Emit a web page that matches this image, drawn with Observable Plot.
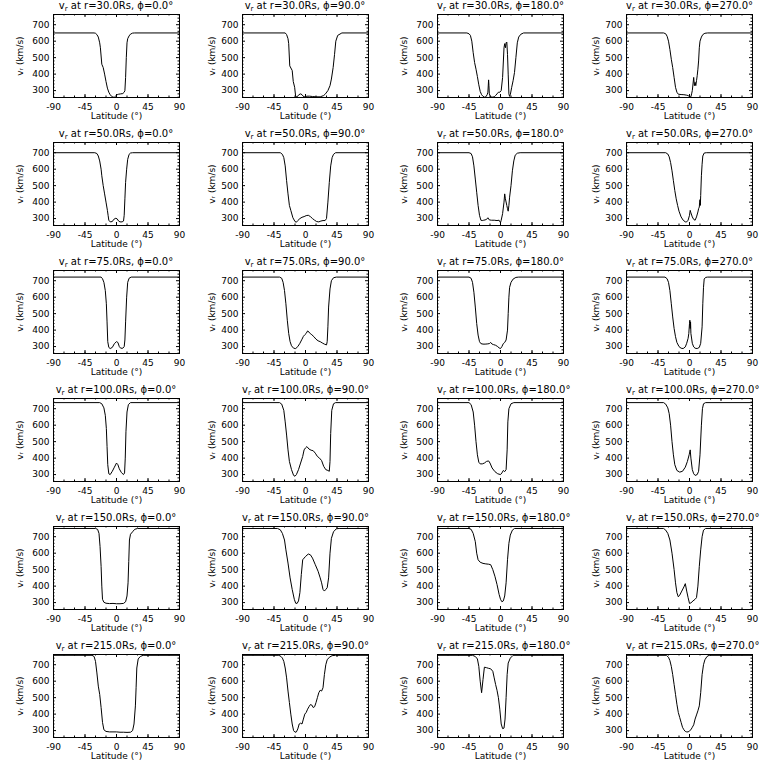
<!DOCTYPE html>
<html><head><meta charset="utf-8">
<script src="https://cdn.jsdelivr.net/npm/d3@7"></script>
<script src="https://cdn.jsdelivr.net/npm/@observablehq/plot@0.6"></script>
<style>
body{margin:0;background:#fff;}
#grid{position:relative;width:768px;height:768px;font-family:"DejaVu Sans",sans-serif;color:#000;}
.cell{position:absolute;width:192px;height:128px;}
.title{position:absolute;top:0;width:126px;text-align:center;font-size:10px;line-height:12px;white-space:nowrap;color:#000;}
.title sub{font-size:7px;vertical-align:-2px;line-height:0;}
.cell svg{position:absolute;top:12px;left:0;}
</style></head><body><div id="grid"></div>
<script>
const radii = [30, 50, 75, 100, 150, 215];
const phis = [0, 90, 180, 270];
const xTicks = [-90, -45, 0, 45, 90];
const yTicks = [300, 400, 500, 600, 700];
const yDomain = [258, 762];

// r = 30 Rs
const r30_phi0 = [[-90,650],[-32,650],[-30,648],[-28,640],[-26,625],[-24,590],[-23,560],[-22,510],[-21,460],[-19,440],[-17,400],[-15,355],[-13,315],[-11,290],[-9,275],[-7,265],[-5,260],[-3,260],[-1,268],[1,275],[3,278],[6,280],[9,282],[11,290],[12,300],[13,380],[14,500],[15,590],[16,615],[18,632],[20,643],[23,649],[26,650],[90,650]];
const r30_phi90 = [[-90,650],[-29,650],[-27,640],[-25,615],[-24,585],[-22.5,450],[-19,422],[-17.5,355],[-15.5,320],[-14,262],[-12,262],[-9.5,275],[-7,280],[-5,275],[-2.5,262],[0,262],[2,266],[6,266],[10,264],[15,262],[21,262],[26,270],[28.5,280],[32,300],[35,330],[37,370],[39.5,440],[41.5,520],[43.3,600],[46,635],[52,650],[90,650]];
const r30_phi180 = [[-90,650],[-48,650],[-45,645],[-43,635],[-41,600],[-39,530],[-37,470],[-35,430],[-33,385],[-31,335],[-29,295],[-27,275],[-25,265],[-23,260],[-21,262],[-19,275],[-18,290],[-17,365],[-16.5,330],[-16,280],[-14,262],[-12,260],[-9,262],[-7,270],[-5,280],[-3,290],[-1,290],[1,300],[3,380],[5,560],[6,585],[7,560],[8,590],[9,595],[10,520],[11,400],[12,280],[13,265],[14,275],[16,320],[18,360],[20,410],[22,500],[24,590],[26,625],[29,642],[33,650],[90,650]];
const r30_phi270 = [[-90,650],[-37,650],[-34,645],[-32,630],[-30,600],[-28,550],[-26,490],[-24,440],[-22,380],[-20,320],[-18,290],[-16,278],[-12,276],[-8,275],[-4,272],[-2,270],[0,262],[2,262],[3,280],[4,300],[5,340],[6,380],[7,330],[8,350],[9,330],[10,360],[11,390],[12,430],[13,480],[14,560],[15,600],[17,625],[19,640],[22,648],[26,650],[90,650]];

// r = 50 Rs
const r50_phi0 = [[-90,700],[-31,700],[-28,695],[-26,680],[-24,650],[-22,600],[-21,560],[-19,500],[-17,450],[-15,400],[-13,350],[-12,320],[-11,290],[-9,280],[-6,282],[-4,295],[-1,302],[1,298],[3,285],[5,280],[8,280],[10,285],[11,320],[12,420],[13,520],[14.5,600],[16,660],[18,690],[20,698],[23,700],[90,700]];
const r50_phi90 = [[-90,700],[-36,700],[-33,690],[-31,670],[-29,620],[-27,530],[-25,450],[-23,380],[-21,350],[-18,305],[-15,282],[-13,278],[-11,288],[-8,300],[-5,308],[-2,312],[1,318],[4,320],[7,312],[10,300],[13,290],[16,282],[19,280],[22,285],[25,288],[28,288],[30,300],[32,400],[34,520],[36,620],[38,670],[40,690],[43,700],[90,700]];
const r50_phi180 = [[-90,700],[-45,700],[-42,695],[-40,675],[-38,620],[-36,540],[-34,460],[-32,380],[-30,320],[-28,290],[-26,288],[-24,290],[-22,292],[-20,295],[-18,305],[-16,292],[-13,290],[-9,290],[-5,288],[-2,290],[0,275],[1,290],[3,330],[5,400],[6,450],[7,420],[9,380],[10,360],[11,345],[12,380],[13,430],[15,500],[17,590],[19,650],[21,685],[24,697],[28,700],[90,700]];
const r50_phi270 = [[-90,700],[-34,700],[-31,692],[-29,675],[-27,640],[-25,590],[-23,530],[-21,470],[-19,420],[-17,380],[-15,345],[-12,310],[-9,290],[-6,280],[-4,280],[-2,290],[0,320],[1,350],[2,335],[4,310],[6,295],[8,290],[10,310],[12,340],[13,360],[14,370],[14.5,400],[15,415],[15.5,380],[16,440],[17,560],[18,630],[19,680],[21,698],[24,700],[90,700]];

// r = 75 Rs
const r75_phi0 = [[-90,722],[-22,722],[-20,712],[-18,690],[-16,640],[-14.5,560],[-13.5,450],[-12.5,330],[-11,295],[-9,288],[-6,295],[-3,318],[0,330],[2,325],[4,300],[6,290],[9,290],[11,300],[12,340],[13,450],[14.5,600],[16,690],[18,715],[21,722],[90,722]];
const r75_phi90 = [[-90,722],[-37,722],[-34,715],[-32,690],[-30,640],[-28,560],[-26,460],[-24,380],[-22,330],[-20,305],[-17,290],[-14,288],[-11,300],[-8,320],[-5,345],[-3,362],[-1,372],[1,380],[3,395],[5,388],[7,378],[9,372],[12,360],[15,345],[18,335],[21,330],[24,322],[27,315],[30,310],[31,330],[32,420],[33,540],[35,650],[37,700],[40,718],[44,722],[90,722]];
const r75_phi180 = [[-90,722],[-45,722],[-42,715],[-40,690],[-38,630],[-36,540],[-34,440],[-32,370],[-30,330],[-28,318],[-25,315],[-22,315],[-19,316],[-16,318],[-14,325],[-12,315],[-10,312],[-7,308],[-4,300],[-2,292],[0,288],[2,300],[4,318],[6,325],[8,340],[10,400],[11,500],[12,600],[13,660],[15,690],[18,710],[22,720],[26,722],[90,722]];
const r75_phi270 = [[-90,722],[-35,722],[-32,712],[-30,690],[-28,640],[-26,560],[-24,480],[-22,410],[-20,360],[-18,325],[-15,300],[-12,290],[-9,288],[-6,298],[-4,320],[-2,350],[-1,380],[0,440],[0.5,460],[1,410],[1.5,450],[2,380],[4,320],[6,298],[8,290],[11,288],[14,295],[16,320],[18,420],[19,560],[20,660],[21,710],[23,720],[26,722],[90,722]];

// r = 100 Rs
const r100_phi0 = [[-90,737],[-24,737],[-21,730],[-18,705],[-16,660],[-14.5,580],[-13.5,470],[-12.5,360],[-11,305],[-9,300],[-6,320],[-3,345],[0,370],[2,360],[4,335],[7,312],[10,300],[11.5,310],[12.5,400],[13.5,560],[15,680],[17,725],[20,737],[90,737]];
const r100_phi90 = [[-90,737],[-37,737],[-34,728],[-31,690],[-29,620],[-27,540],[-25,450],[-23,380],[-20,330],[-17,295],[-15,290],[-13,300],[-10,330],[-7,370],[-4,410],[-2,450],[0,462],[2,470],[5,455],[8,448],[11,445],[14,430],[17,410],[20,400],[23,385],[26,350],[29,330],[32,325],[34,320],[35,380],[36,550],[37.5,690],[40,730],[43,737],[90,737]];
const r100_phi180 = [[-90,737],[-45,737],[-42,725],[-39,680],[-37,600],[-35,500],[-33,420],[-31,375],[-29,365],[-26,365],[-23,370],[-20,380],[-17,383],[-15,370],[-12,340],[-8,318],[-4,305],[0,300],[2,310],[4,325],[6,318],[8,330],[9.5,450],[10.5,620],[12,700],[15,730],[19,737],[90,737]];
const r100_phi270 = [[-90,737],[-37,737],[-34,728],[-31,705],[-29,670],[-27,600],[-25,500],[-23,420],[-21,360],[-18,325],[-14,315],[-10,320],[-6,345],[-3,380],[-0.5,420],[1,450],[2,400],[4,330],[6,305],[8,295],[11,300],[13,320],[15,420],[17,600],[18.5,700],[20,730],[23,737],[90,737]];

// r = 150 Rs
const r150_phi0 = [[-90,750],[-30,750],[-27,745],[-25,720],[-23.5,640],[-22,520],[-21,400],[-20,320],[-18,302],[-15,296],[-10,294],[-5,295],[0,293],[5,293],[10,295],[13,305],[15,340],[16.5,420],[17.5,550],[18.5,680],[20,715],[23,730],[26,745],[30,750],[90,750]];
const r150_phi90 = [[-90,750],[-40,750],[-36,742],[-33,720],[-30,680],[-28,620],[-25,540],[-22,450],[-19,380],[-16,320],[-14,296],[-12,295],[-10,310],[-8,360],[-6,470],[-4,560],[0,580],[4,595],[7,590],[10,570],[14,530],[18,490],[21,450],[23,420],[25,380],[27,370],[29,380],[31,390],[33,450],[35,600],[37,690],[40,730],[44,748],[48,750],[90,750]];
const r150_phi180 = [[-90,750],[-45,750],[-42,745],[-39,720],[-36,670],[-34,600],[-32,560],[-29,545],[-25,538],[-21,535],[-17,533],[-14,530],[-11,500],[-8,460],[-5,410],[-2,350],[0,320],[2,305],[4,310],[6,340],[8,420],[10,560],[12,660],[14,710],[17,740],[20,750],[90,750]];
const r150_phi270 = [[-90,750],[-37,750],[-34,740],[-31,720],[-28,680],[-25,600],[-22,500],[-20,420],[-18,360],[-16,335],[-14,345],[-11,370],[-8,395],[-6,415],[-4,370],[-2,330],[0,295],[2,298],[5,310],[8,320],[10,330],[12,400],[14,520],[16,620],[18,700],[20,740],[23,750],[90,750]];

// r = 215 Rs
const r215_phi0 = [[-90,757],[-35,757],[-32,750],[-30,720],[-28,650],[-26,570],[-24,520],[-22,440],[-20,350],[-18,305],[-15,295],[-10,292],[-5,292],[0,292],[5,290],[10,290],[15,289],[20,290],[23,300],[25,340],[27,450],[28,560],[29,680],[31,735],[34,750],[38,757],[90,757]];
const r215_phi90 = [[-90,757],[-38,757],[-35,750],[-33,740],[-31,720],[-29,680],[-27,620],[-25,540],[-23,470],[-21,400],[-19,340],[-17,300],[-15,290],[-13,292],[-11,310],[-9,340],[-7,345],[-5,340],[-3,370],[-1,400],[1,410],[3,430],[5,445],[7,458],[9,455],[11,440],[13,445],[15,470],[17,500],[19,530],[21,545],[23,540],[25,560],[27,640],[29,700],[31,730],[34,745],[38,755],[43,757],[90,757]];
const r215_phi180 = [[-90,757],[-40,757],[-36,750],[-33,735],[-31,690],[-29,600],[-27,530],[-25,610],[-23,685],[-20,682],[-17,678],[-14,675],[-11,660],[-9,620],[-7,580],[-5,545],[-3,500],[-1,430],[1,340],[3,312],[5,315],[6.5,370],[8,500],[9.5,640],[11,710],[14,740],[18,757],[90,757]];
const r215_phi270 = [[-90,757],[-33,757],[-30,745],[-28,725],[-26,690],[-24,640],[-22,580],[-20,520],[-18,460],[-16,410],[-14,380],[-12,350],[-10,320],[-8,305],[-6,295],[-4,292],[-2,292],[0,298],[2,305],[4,320],[6,335],[8,370],[10,395],[12,420],[14,450],[16,530],[18,640],[20,700],[22,730],[25,750],[28,757],[90,757]];

const seriesByRow = [
  [r30_phi0, r30_phi90, r30_phi180, r30_phi270],
  [r50_phi0, r50_phi90, r50_phi180, r50_phi270],
  [r75_phi0, r75_phi90, r75_phi180, r75_phi270],
  [r100_phi0, r100_phi90, r100_phi180, r100_phi270],
  [r150_phi0, r150_phi90, r150_phi180, r150_phi270],
  [r215_phi0, r215_phi90, r215_phi180, r215_phi270]
];

// minor tick values
const xMinor = d3.range(-90, 91, 15);
const yMinor = d3.range(260, 761, 20).filter(v => v % 100 !== 0);

const grid = document.getElementById("grid");
const cellW = 192, cellH = 128;
const leftMargins = [53, 50, 53, 50];
const boxW = 126, boxH = 83;
const svgH = 116, mTop = 2;

radii.forEach((r, ri) => {
  phis.forEach((phi, ci) => {
    const data = seriesByRow[ri][ci];
    const ml = leftMargins[ci];
    const cell = document.createElement("div");
    cell.className = "cell";
    cell.style.left = (ci * cellW) + "px";
    cell.style.top = (ri * cellH) + "px";
    const title = document.createElement("div");
    title.className = "title";
    title.style.left = ml + "px";
    title.innerHTML = `v<sub>r</sub> at r=${r.toFixed(1)}Rs, ϕ=${phi.toFixed(1)}°`;
    cell.appendChild(title);
    const chart = Plot.plot({
      width: cellW,
      height: svgH,
      marginLeft: ml,
      marginRight: cellW - ml - boxW,
      marginTop: mTop,
      marginBottom: svgH - mTop - boxH,
      style: {fontFamily: "DejaVu Sans, sans-serif", fontSize: "9px", background: "white", color: "black", overflow: "visible"},
      x: {domain: [-90, 90]},
      y: {domain: yDomain},
      marks: [
        Plot.tickX(xTicks, {x: d => d, insetTop: boxH - 3, stroke: "black"}),
        Plot.tickX(xTicks, {x: d => d, insetBottom: boxH - 3, stroke: "black"}),
        Plot.tickX(xMinor, {x: d => d, insetTop: boxH - 1.5, stroke: "black"}),
        Plot.tickX(xMinor, {x: d => d, insetBottom: boxH - 1.5, stroke: "black"}),
        Plot.tickY(yTicks, {y: d => d, insetRight: boxW - 3, stroke: "black"}),
        Plot.tickY(yTicks, {y: d => d, insetLeft: boxW - 3, stroke: "black"}),
        Plot.tickY(yMinor, {y: d => d, insetRight: boxW - 1.5, stroke: "black"}),
        Plot.tickY(yMinor, {y: d => d, insetLeft: boxW - 1.5, stroke: "black"}),
        Plot.axisX({ticks: xTicks, tickSize: 0, tickPadding: 6, label: null, tickFormat: d => d}),
        Plot.axisY({ticks: yTicks, tickSize: 0, tickPadding: 4, label: null}),
        Plot.text(["Latitude (°)"], {frameAnchor: "bottom", dy: 21, fontSize: 9}),
        Plot.text(["vᵣ (km/s)"], {frameAnchor: "left", dx: -(ml - 20), rotate: -90, textAnchor: "middle", fontSize: 9}),
        Plot.line(data, {x: d => d[0], y: d => d[1], stroke: "black", strokeWidth: 1, clip: true}),
        Plot.frame({stroke: "black"})
      ]
    });
    cell.appendChild(chart);
    grid.appendChild(cell);
  });
});
</script>
</body></html>
